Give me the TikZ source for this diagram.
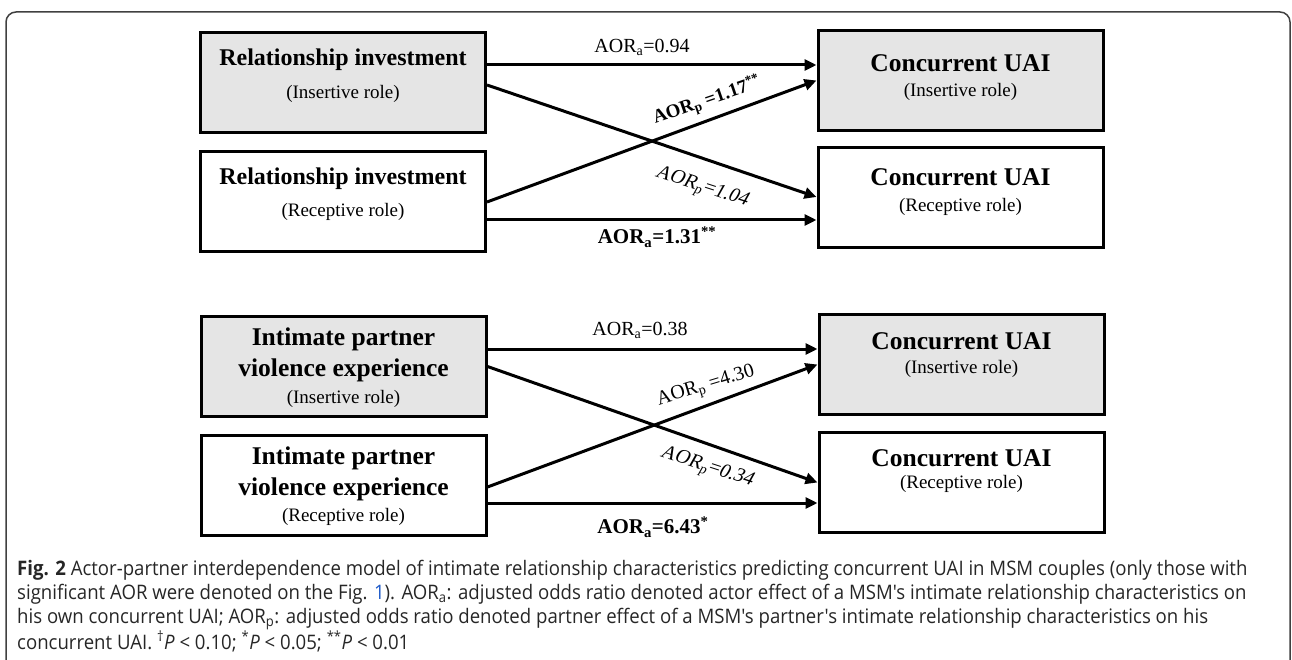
\documentclass[tikz,border=0pt]{standalone}
\usepackage{fontspec}
\setmainfont{Liberation Serif}
\newfontfamily\capfont[FakeStretch=0.93]{Open Sans}
\usetikzlibrary{arrows.meta,positioning}
\definecolor{boxgray}{RGB}{229,229,229}
\definecolor{linkblue}{RGB}{30,90,200}
\tikzset{
  box/.style={draw=black, line width=3pt, minimum width=285pt, minimum height=100pt, inner sep=0pt},
  graybox/.style={box, fill=boxgray},
  ttl/.style={font=\bfseries\fontsize{25.5}{31}\selectfont, align=center, inner sep=0pt},
  subttl/.style={font=\fontsize{19}{23}\selectfont, inner sep=0pt},
  lbl/.style={font=\fontsize{20}{24}\selectfont, inner sep=0pt},
  blbl/.style={font=\bfseries\fontsize{21}{25}\selectfont, inner sep=0pt},
  arr/.style={line width=3pt, -{Triangle[length=12pt,width=11pt]}}
}
\begin{document}
\begin{tikzpicture}[x=1pt,y=-1pt]
\useasboundingbox (0,0) rectangle (1292,660);
% frame
\draw[black!75, line width=1.5pt, rounded corners=10pt] (6,700) |- (1290,12) -- (1290,700);

% relationship investment
\node[graybox] (ri1) at (343,82.5) {};
\node[box] (ri2) at (343,202) {};
\node[graybox] (cu1) at (960.5,80.5) {};
\node[box] (cu2) at (960.5,198) {};
\node[ttl, font=\bfseries\fontsize{24}{29}\selectfont] (ri1t) at ([yshift=-29pt]ri1.north) {Relationship investment};
\node[subttl] (ri1s) at ([yshift=-63pt]ri1.north) {(Insertive role)};
\node[ttl, font=\bfseries\fontsize{24}{29}\selectfont] (ri2t) at ([yshift=-28pt]ri2.north) {Relationship investment};
\node[subttl] (ri2s) at ([yshift=-61pt]ri2.north) {(Receptive role)};
\node[ttl] (cu1t) at ([yshift=-34pt]cu1.north) {Concurrent UAI};
\node[subttl] (cu1s) at ([yshift=-63pt]cu1.north) {(Insertive role)};
\node[ttl] (cu2t) at ([yshift=-31pt]cu2.north) {Concurrent UAI};
\node[subttl] (cu2s) at ([yshift=-60pt]cu2.north) {(Receptive role)};

\draw[arr] ([yshift=17.5pt]ri1.east) coordinate (s1) -- (s1 -| cu1.west);
\draw[arr] ([yshift=-2.5pt]ri1.east) -- ([yshift=1pt]cu2.west);
\draw[arr] (ri2.east) -- (cu1.west);
\draw[arr] ([yshift=-18pt]ri2.east) coordinate (s2) -- (s2 -| cu2.west);

\node[lbl] (l1) at (642,47) {AOR\textsubscript{a}=0.94};
\node[blbl, font=\bfseries\fontsize{19}{23}\selectfont, rotate=19] (l2) at (707,101) {AOR\textsubscript{p} =1.17\textsuperscript{**}};
\node[lbl, rotate=-18, xslant=0.2] (l3) at (702,188) {AOR\textsubscript{p}=1.04};
\node[blbl] (l4) at (657,237) {AOR\textsubscript{a}=1.31\textsuperscript{**}};

% intimate partner violence
\node[graybox] (ip1) at (343.5,366.5) {};
\node[box] (ip2) at (343.5,485.5) {};
\node[graybox] (cu3) at (961.5,364.5) {};
\node[box] (cu4) at (961.5,482.5) {};
\node[ttl] (ip1t) at ([yshift=-40pt]ip1.north) {Intimate partner\\violence experience};
\node[subttl] (ip1s) at ([yshift=-84pt]ip1.north) {(Insertive role)};
\node[ttl] (ip2t) at ([yshift=-40pt]ip2.north) {Intimate partner\\violence experience};
\node[subttl] (ip2s) at ([yshift=-83pt]ip2.north) {(Receptive role)};
\node[ttl] (cu3t) at ([yshift=-28pt]cu3.north) {Concurrent UAI};
\node[subttl] (cu3s) at ([yshift=-56pt]cu3.north) {(Insertive role)};
\node[ttl] (cu4t) at ([yshift=-27pt]cu4.north) {Concurrent UAI};
\node[subttl] (cu4s) at ([yshift=-53pt]cu4.north) {(Receptive role)};

\draw[arr] ([yshift=17.5pt]ip1.east) coordinate (s3) -- (s3 -| cu3.west);
\draw[arr] (ip1.east) -- (cu4.west);
\draw[arr] ([yshift=-1.5pt]ip2.east) -- (cu3.west);
\draw[arr] ([yshift=-17.5pt]ip2.east) coordinate (s4) -- (s4 -| cu4.west);

\node[lbl] (l5) at (640,330) {AOR\textsubscript{a}=0.38};
\node[lbl, rotate=17] (l6) at (706,387) {AOR\textsubscript{p} =4.30};
\node[lbl, rotate=-18, xslant=0.2] (l7) at (707,468) {AOR\textsubscript{p}=0.34};
\node[blbl] (l8) at (653,527) {AOR\textsubscript{a}=6.43\textsuperscript{*}};

% caption
\node[anchor=north west, align=left, inner sep=0pt, text=black!85,
      font=\capfont\fontsize{20}{24}\selectfont] (cap) at (17,560)
  {\textbf{Fig. 2} Actor-partner interdependence model of intimate relationship characteristics predicting concurrent UAI in MSM couples (only those with\\
   significant AOR were denoted on the Fig. {\color{linkblue}1}). AOR\textsubscript{a}: adjusted odds ratio denoted actor effect of a MSM's intimate relationship characteristics on\\
   his own concurrent UAI; AOR\textsubscript{p}: adjusted odds ratio denoted partner effect of a MSM's partner's intimate relationship characteristics on his\\
   concurrent UAI. \textsuperscript{\textdagger}\textit{P} < 0.10; \textsuperscript{*}\textit{P} < 0.05; \textsuperscript{**}\textit{P} < 0.01};
\end{tikzpicture}
\end{document}
